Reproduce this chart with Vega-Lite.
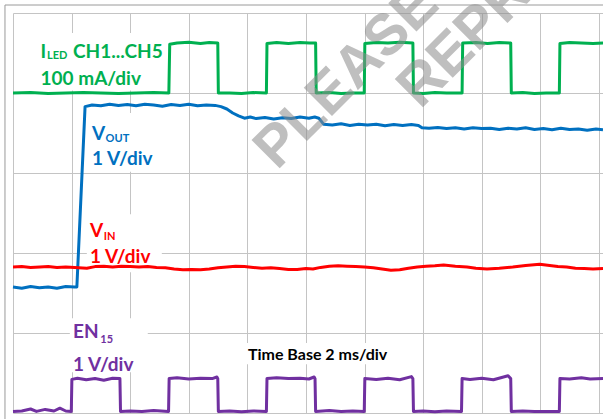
{
  "$schema": "https://vega.github.io/schema/vega-lite/v6.json",
  "width": 590,
  "height": 400,
  "autosize": {"type": "none"},
  "padding": {"left": 13, "top": 13, "right": 0, "bottom": 6},
  "background": "#ffffff",
  "config": {
    "view": {"stroke": null},
    "text": {"font": "Lato", "fontWeight": "bold"}
  },
  "datasets": {
    "traces": [
      {"s":"ILED","t":0,"v":8.0},{"s":"ILED","t":0.3,"v":8.01},{"s":"ILED","t":0.6,"v":7.99},{"s":"ILED","t":0.9,"v":8.0},{"s":"ILED","t":1.2,"v":8.01},{"s":"ILED","t":1.5,"v":8.0},{"s":"ILED","t":1.8,"v":7.99},{"s":"ILED","t":2.1,"v":8.0},{"s":"ILED","t":2.4,"v":8.01},{"s":"ILED","t":2.66,"v":8.0},
      {"s":"ILED","t":2.675,"v":9.22},{"s":"ILED","t":2.8,"v":9.25},{"s":"ILED","t":3.0,"v":9.27},{"s":"ILED","t":3.2,"v":9.24},{"s":"ILED","t":3.35,"v":9.26},{"s":"ILED","t":3.495,"v":9.25},
      {"s":"ILED","t":3.505,"v":8.0},{"s":"ILED","t":3.7,"v":8.0},{"s":"ILED","t":3.9,"v":7.99},{"s":"ILED","t":4.1,"v":8.01},{"s":"ILED","t":4.325,"v":8.0},
      {"s":"ILED","t":4.335,"v":9.24},{"s":"ILED","t":4.5,"v":9.26},{"s":"ILED","t":4.7,"v":9.24},{"s":"ILED","t":4.9,"v":9.26},{"s":"ILED","t":5.06,"v":9.25},{"s":"ILED","t":5.165,"v":9.25},
      {"s":"ILED","t":5.175,"v":8.0},{"s":"ILED","t":5.4,"v":8.01},{"s":"ILED","t":5.6,"v":7.99},{"s":"ILED","t":5.8,"v":8.0},{"s":"ILED","t":5.995,"v":8.0},
      {"s":"ILED","t":6.005,"v":9.24},{"s":"ILED","t":6.2,"v":9.26},{"s":"ILED","t":6.4,"v":9.25},{"s":"ILED","t":6.6,"v":9.27},{"s":"ILED","t":6.825,"v":9.25},
      {"s":"ILED","t":6.835,"v":8.0},{"s":"ILED","t":7.0,"v":7.99},{"s":"ILED","t":7.2,"v":8.01},{"s":"ILED","t":7.4,"v":8.0},{"s":"ILED","t":7.665,"v":8.0},
      {"s":"ILED","t":7.675,"v":9.25},{"s":"ILED","t":7.9,"v":9.26},{"s":"ILED","t":8.1,"v":9.24},{"s":"ILED","t":8.3,"v":9.26},{"s":"ILED","t":8.495,"v":9.25},
      {"s":"ILED","t":8.505,"v":8.0},{"s":"ILED","t":8.7,"v":8.01},{"s":"ILED","t":8.9,"v":7.99},{"s":"ILED","t":9.1,"v":8.0},{"s":"ILED","t":9.325,"v":8.0},
      {"s":"ILED","t":9.335,"v":9.24},{"s":"ILED","t":9.5,"v":9.26},{"s":"ILED","t":9.7,"v":9.25},{"s":"ILED","t":9.9,"v":9.24},{"s":"ILED","t":10.07,"v":9.25},

      {"s":"VOUT","t":0,"v":3.15},{"s":"VOUT","t":0.15,"v":3.12},{"s":"VOUT","t":0.3,"v":3.16},{"s":"VOUT","t":0.45,"v":3.13},{"s":"VOUT","t":0.6,"v":3.15},{"s":"VOUT","t":0.75,"v":3.12},{"s":"VOUT","t":0.9,"v":3.16},{"s":"VOUT","t":1.05,"v":3.15},{"s":"VOUT","t":1.09,"v":3.15},
      {"s":"VOUT","t":1.23,"v":7.66},{"s":"VOUT","t":1.35,"v":7.7},{"s":"VOUT","t":1.5,"v":7.68},{"s":"VOUT","t":1.65,"v":7.72},{"s":"VOUT","t":1.8,"v":7.69},{"s":"VOUT","t":1.95,"v":7.71},{"s":"VOUT","t":2.1,"v":7.68},{"s":"VOUT","t":2.25,"v":7.72},{"s":"VOUT","t":2.4,"v":7.7},{"s":"VOUT","t":2.55,"v":7.67},{"s":"VOUT","t":2.7,"v":7.71},{"s":"VOUT","t":2.85,"v":7.69},{"s":"VOUT","t":3.0,"v":7.72},{"s":"VOUT","t":3.15,"v":7.68},{"s":"VOUT","t":3.3,"v":7.7},{"s":"VOUT","t":3.45,"v":7.69},
      {"s":"VOUT","t":3.55,"v":7.66},{"s":"VOUT","t":3.65,"v":7.6},{"s":"VOUT","t":3.75,"v":7.5},{"s":"VOUT","t":3.85,"v":7.43},{"s":"VOUT","t":3.95,"v":7.37},{"s":"VOUT","t":4.05,"v":7.4},{"s":"VOUT","t":4.15,"v":7.36},{"s":"VOUT","t":4.3,"v":7.39},{"s":"VOUT","t":4.45,"v":7.35},{"s":"VOUT","t":4.6,"v":7.38},{"s":"VOUT","t":4.75,"v":7.36},{"s":"VOUT","t":4.9,"v":7.4},{"s":"VOUT","t":5.05,"v":7.37},{"s":"VOUT","t":5.15,"v":7.4},{"s":"VOUT","t":5.22,"v":7.37},
      {"s":"VOUT","t":5.3,"v":7.22},{"s":"VOUT","t":5.45,"v":7.2},{"s":"VOUT","t":5.6,"v":7.23},{"s":"VOUT","t":5.75,"v":7.19},{"s":"VOUT","t":5.9,"v":7.22},{"s":"VOUT","t":6.05,"v":7.2},{"s":"VOUT","t":6.2,"v":7.22},{"s":"VOUT","t":6.35,"v":7.18},{"s":"VOUT","t":6.5,"v":7.21},{"s":"VOUT","t":6.65,"v":7.19},{"s":"VOUT","t":6.8,"v":7.21},{"s":"VOUT","t":6.92,"v":7.19},
      {"s":"VOUT","t":6.98,"v":7.13},{"s":"VOUT","t":7.1,"v":7.12},{"s":"VOUT","t":7.25,"v":7.14},{"s":"VOUT","t":7.4,"v":7.11},{"s":"VOUT","t":7.55,"v":7.13},{"s":"VOUT","t":7.7,"v":7.1},{"s":"VOUT","t":7.85,"v":7.13},{"s":"VOUT","t":8.0,"v":7.11},{"s":"VOUT","t":8.15,"v":7.12},{"s":"VOUT","t":8.3,"v":7.09},{"s":"VOUT","t":8.45,"v":7.12},{"s":"VOUT","t":8.6,"v":7.1},{"s":"VOUT","t":8.75,"v":7.13},{"s":"VOUT","t":8.9,"v":7.09},{"s":"VOUT","t":9.05,"v":7.11},{"s":"VOUT","t":9.2,"v":7.08},{"s":"VOUT","t":9.35,"v":7.12},{"s":"VOUT","t":9.5,"v":7.09},{"s":"VOUT","t":9.65,"v":7.1},{"s":"VOUT","t":9.8,"v":7.07},{"s":"VOUT","t":9.95,"v":7.1},{"s":"VOUT","t":10.07,"v":7.08},

      {"s":"VIN","t":0,"v":3.65},{"s":"VIN","t":0.15,"v":3.66},{"s":"VIN","t":0.3,"v":3.64},{"s":"VIN","t":0.46,"v":3.65},{"s":"VIN","t":0.6,"v":3.66},{"s":"VIN","t":0.75,"v":3.64},{"s":"VIN","t":0.9,"v":3.65},{"s":"VIN","t":1.05,"v":3.64},{"s":"VIN","t":1.26,"v":3.62},{"s":"VIN","t":1.4,"v":3.66},{"s":"VIN","t":1.55,"v":3.67},{"s":"VIN","t":1.7,"v":3.65},{"s":"VIN","t":1.85,"v":3.67},{"s":"VIN","t":2.0,"v":3.66},{"s":"VIN","t":2.15,"v":3.65},{"s":"VIN","t":2.3,"v":3.66},{"s":"VIN","t":2.45,"v":3.64},{"s":"VIN","t":2.6,"v":3.63},{"s":"VIN","t":2.75,"v":3.6},{"s":"VIN","t":2.9,"v":3.58},{"s":"VIN","t":3.05,"v":3.59},{"s":"VIN","t":3.2,"v":3.58},{"s":"VIN","t":3.35,"v":3.6},{"s":"VIN","t":3.5,"v":3.63},{"s":"VIN","t":3.65,"v":3.65},{"s":"VIN","t":3.8,"v":3.67},{"s":"VIN","t":3.95,"v":3.66},{"s":"VIN","t":4.1,"v":3.64},{"s":"VIN","t":4.25,"v":3.62},{"s":"VIN","t":4.4,"v":3.63},{"s":"VIN","t":4.55,"v":3.61},{"s":"VIN","t":4.7,"v":3.59},{"s":"VIN","t":4.85,"v":3.59},{"s":"VIN","t":5.0,"v":3.61},{"s":"VIN","t":5.12,"v":3.6},{"s":"VIN","t":5.25,"v":3.64},{"s":"VIN","t":5.4,"v":3.67},{"s":"VIN","t":5.55,"v":3.68},{"s":"VIN","t":5.7,"v":3.67},{"s":"VIN","t":5.85,"v":3.66},{"s":"VIN","t":6.0,"v":3.65},{"s":"VIN","t":6.15,"v":3.63},{"s":"VIN","t":6.3,"v":3.6},{"s":"VIN","t":6.45,"v":3.57},{"s":"VIN","t":6.6,"v":3.58},{"s":"VIN","t":6.75,"v":3.62},{"s":"VIN","t":6.9,"v":3.65},{"s":"VIN","t":7.05,"v":3.67},{"s":"VIN","t":7.2,"v":3.68},{"s":"VIN","t":7.35,"v":3.7},{"s":"VIN","t":7.55,"v":3.67},{"s":"VIN","t":7.75,"v":3.65},{"s":"VIN","t":7.9,"v":3.62},{"s":"VIN","t":8.09,"v":3.6},{"s":"VIN","t":8.3,"v":3.62},{"s":"VIN","t":8.53,"v":3.65},{"s":"VIN","t":8.75,"v":3.69},{"s":"VIN","t":8.99,"v":3.72},{"s":"VIN","t":9.16,"v":3.69},{"s":"VIN","t":9.3,"v":3.66},{"s":"VIN","t":9.45,"v":3.65},{"s":"VIN","t":9.6,"v":3.62},{"s":"VIN","t":9.75,"v":3.61},{"s":"VIN","t":9.9,"v":3.6},{"s":"VIN","t":10.07,"v":3.61},

      {"s":"EN15","t":0,"v":0.04},{"s":"EN15","t":0.15,"v":0.05},{"s":"EN15","t":0.3,"v":0.1},{"s":"EN15","t":0.4,"v":0.04},{"s":"EN15","t":0.55,"v":0.09},{"s":"EN15","t":0.7,"v":0.05},{"s":"EN15","t":0.8,"v":0.12},{"s":"EN15","t":0.9,"v":0.05},{"s":"EN15","t":0.995,"v":0.04},
      {"s":"EN15","t":1.005,"v":0.84},{"s":"EN15","t":1.1,"v":0.87},{"s":"EN15","t":1.25,"v":0.83},{"s":"EN15","t":1.4,"v":0.86},{"s":"EN15","t":1.55,"v":0.82},{"s":"EN15","t":1.7,"v":0.87},{"s":"EN15","t":1.825,"v":0.86},
      {"s":"EN15","t":1.835,"v":0.04},{"s":"EN15","t":2.0,"v":0.05},{"s":"EN15","t":2.2,"v":0.04},{"s":"EN15","t":2.4,"v":0.06},{"s":"EN15","t":2.655,"v":0.04},
      {"s":"EN15","t":2.665,"v":0.86},{"s":"EN15","t":2.8,"v":0.88},{"s":"EN15","t":3.0,"v":0.85},{"s":"EN15","t":3.2,"v":0.87},{"s":"EN15","t":3.4,"v":0.86},{"s":"EN15","t":3.48,"v":0.9},{"s":"EN15","t":3.495,"v":0.86},
      {"s":"EN15","t":3.505,"v":0.04},{"s":"EN15","t":3.7,"v":0.05},{"s":"EN15","t":3.9,"v":0.03},{"s":"EN15","t":4.1,"v":0.05},{"s":"EN15","t":4.325,"v":0.04},
      {"s":"EN15","t":4.335,"v":0.86},{"s":"EN15","t":4.5,"v":0.88},{"s":"EN15","t":4.7,"v":0.86},{"s":"EN15","t":4.9,"v":0.87},{"s":"EN15","t":5.05,"v":0.85},{"s":"EN15","t":5.14,"v":0.9},{"s":"EN15","t":5.155,"v":0.86},
      {"s":"EN15","t":5.165,"v":0.04},{"s":"EN15","t":5.4,"v":0.06},{"s":"EN15","t":5.6,"v":0.04},{"s":"EN15","t":5.8,"v":0.05},{"s":"EN15","t":5.995,"v":0.04},
      {"s":"EN15","t":6.005,"v":0.86},{"s":"EN15","t":6.2,"v":0.84},{"s":"EN15","t":6.4,"v":0.87},{"s":"EN15","t":6.6,"v":0.83},{"s":"EN15","t":6.8,"v":0.91},{"s":"EN15","t":6.825,"v":0.86},
      {"s":"EN15","t":6.835,"v":0.04},{"s":"EN15","t":7.0,"v":0.05},{"s":"EN15","t":7.2,"v":0.03},{"s":"EN15","t":7.4,"v":0.05},{"s":"EN15","t":7.655,"v":0.04},
      {"s":"EN15","t":7.665,"v":0.86},{"s":"EN15","t":7.8,"v":0.84},{"s":"EN15","t":8.0,"v":0.87},{"s":"EN15","t":8.2,"v":0.83},{"s":"EN15","t":8.45,"v":0.93},{"s":"EN15","t":8.495,"v":0.86},
      {"s":"EN15","t":8.505,"v":0.04},{"s":"EN15","t":8.7,"v":0.05},{"s":"EN15","t":8.9,"v":0.04},{"s":"EN15","t":9.1,"v":0.04},{"s":"EN15","t":9.325,"v":0.04},
      {"s":"EN15","t":9.335,"v":0.86},{"s":"EN15","t":9.5,"v":0.85},{"s":"EN15","t":9.7,"v":0.88},{"s":"EN15","t":9.85,"v":0.85},{"s":"EN15","t":10.07,"v":0.86}
    ],
    "labelBoxes": [
      {"t":0.37,"t2":2.6,"v":8.06,"v2":9.5},
      {"t":1.28,"t2":2.71,"v":6.03,"v2":7.5},
      {"t":1.26,"t2":2.54,"v":3.52,"v2":4.97},
      {"t":0.97,"t2":2.3,"v":1.02,"v2":2.37},
      {"t":3.96,"t2":6.55,"v":1.22,"v2":1.75}
    ],
    "labels": [
      {"s":"ILED","text":"I","t":0.47,"v":8.875},
      {"s":"ILED","text":"CH1...CH5","t":1.025,"v":8.875},
      {"s":"ILED","text":"100 mA/div","t":0.47,"v":8.2},
      {"s":"VOUT","text":"V","t":1.35,"v":6.825},
      {"s":"VOUT","text":"1 V/div","t":1.35,"v":6.2},
      {"s":"VIN","text":"V","t":1.315,"v":4.4},
      {"s":"VIN","text":"1 V/div","t":1.315,"v":3.75},
      {"s":"EN15","text":"EN","t":1.025,"v":1.875},
      {"s":"EN15","text":"1 V/div","t":1.025,"v":1.06}
    ],
    "subscripts": [
      {"s":"ILED","text":"LED","t":0.58,"v":8.85},
      {"s":"VOUT","text":"OUT","t":1.58,"v":6.775},
      {"s":"VIN","text":"IN","t":1.55,"v":4.325},
      {"s":"EN15","text":"15","t":1.49,"v":1.75}
    ],
    "timebase": [
      {"text":"Time Base 2 ms/div","t":4.01,"v":1.33}
    ],
    "watermark": [
      {"text":"PLEASE","t":5.7,"v":8.4},
      {"text":"REPR","t":7.72,"v":9.3}
    ],
    "frame": [
      {"t":-0.137,"t2":10.07,"v":10.2,"v2":10.2},
      {"t":-0.137,"t2":-0.137,"v":10.2,"v2":-0.2}
    ]
  },
  "layer": [
    {
      "data": {"name": "labelBoxes"},
      "mark": {"type": "rect", "fill": "#ffffff", "stroke": null},
      "encoding": {
        "x": {
          "field": "t", "type": "quantitative",
          "scale": {"domain": [0, 10.07], "nice": false, "zero": false},
          "axis": {"values": [0,1,2,3,4,5,6,7,8,9,10], "grid": true, "gridColor": "#c4c4c4", "gridWidth": 1, "labels": false, "ticks": false, "domain": false, "title": null}
        },
        "x2": {"field": "t2"},
        "y": {
          "field": "v", "type": "quantitative",
          "scale": {"domain": [0, 10], "nice": false, "zero": false},
          "axis": {"values": [0,1,2,3,4,5,6,7,8,9,10], "grid": true, "gridColor": "#c4c4c4", "gridWidth": 1, "labels": false, "ticks": false, "domain": false, "title": null}
        },
        "y2": {"field": "v2"}
      }
    },
    {
      "data": {"name": "traces"},
      "mark": {"type": "line", "strokeWidth": 3, "strokeJoin": "round"},
      "encoding": {
        "x": {"field": "t", "type": "quantitative"},
        "y": {"field": "v", "type": "quantitative"},
        "detail": {"field": "s"},
        "color": {
          "field": "s", "type": "nominal",
          "scale": {"domain": ["ILED","VOUT","VIN","EN15","TB"], "range": ["#00b050","#0070c0","#ff0000","#7030a0","#000000"]},
          "legend": null
        }
      }
    },
    {
      "data": {"name": "labels"},
      "mark": {"type": "text", "fontSize": 19, "align": "left", "baseline": "alphabetic"},
      "encoding": {
        "x": {"field": "t", "type": "quantitative"},
        "y": {"field": "v", "type": "quantitative"},
        "text": {"field": "text"},
        "color": {"field": "s", "type": "nominal", "legend": null}
      }
    },
    {
      "data": {"name": "subscripts"},
      "mark": {"type": "text", "fontSize": 11, "align": "left", "baseline": "alphabetic"},
      "encoding": {
        "x": {"field": "t", "type": "quantitative"},
        "y": {"field": "v", "type": "quantitative"},
        "text": {"field": "text"},
        "color": {"field": "s", "type": "nominal", "legend": null}
      }
    },
    {
      "data": {"name": "timebase"},
      "mark": {"type": "text", "fontSize": 16, "align": "left", "baseline": "alphabetic", "fill": "#000000"},
      "encoding": {
        "x": {"field": "t", "type": "quantitative"},
        "y": {"field": "v", "type": "quantitative"},
        "text": {"field": "text"}
      }
    },
    {
      "data": {"name": "watermark"},
      "mark": {"type": "text", "font": "Liberation Sans", "fontWeight": "bold", "fontSize": 58, "angle": -45, "align": "center", "baseline": "middle", "fill": "#8c8c8c", "opacity": 0.55},
      "encoding": {
        "x": {"field": "t", "type": "quantitative"},
        "y": {"field": "v", "type": "quantitative"},
        "text": {"field": "text"}
      }
    },
    {
      "data": {"name": "frame"},
      "mark": {"type": "rule", "stroke": "#9a9a9a", "strokeWidth": 1},
      "encoding": {
        "x": {"field": "t", "type": "quantitative"},
        "x2": {"field": "t2"},
        "y": {"field": "v", "type": "quantitative"},
        "y2": {"field": "v2"}
      }
    }
  ]
}
